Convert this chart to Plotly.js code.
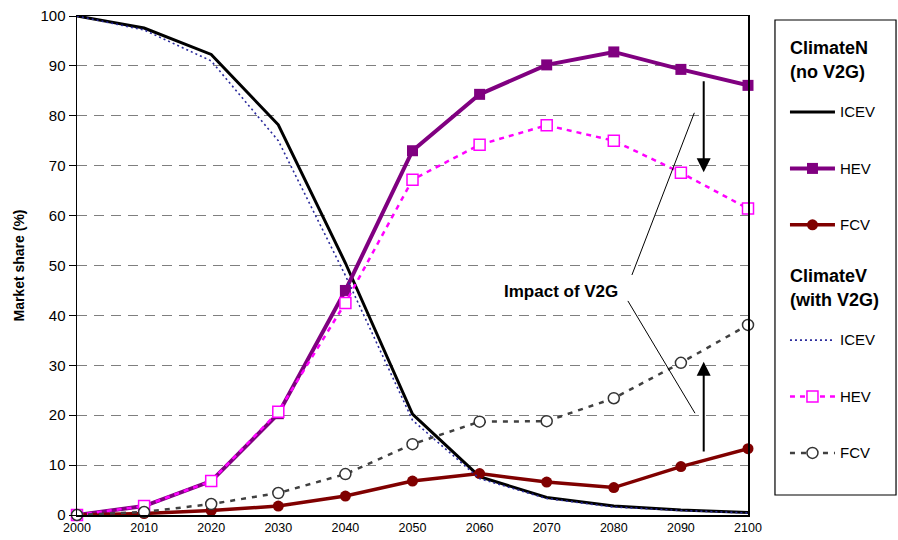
<!DOCTYPE html>
<html>
<head>
<meta charset="utf-8">
<script src="https://cdn.plot.ly/plotly-3.0.1.min.js"></script>
<style>html,body{margin:0;padding:0;background:#fff;}#chart{width:898px;height:540px;}</style>
</head>
<body>
<div id="chart"></div>
<script>
// ---- data ----
var years = [2000, 2010, 2020, 2030, 2040, 2050, 2060, 2070, 2080, 2090, 2100];
var icevN = [100, 97.6, 92.3, 78.2, 50.5, 20.2, 7.7, 3.5, 1.8, 1.0, 0.5];
var hevN  = [0, 1.8, 6.8, 20.3, 45.0, 73.0, 84.3, 90.2, 92.8, 89.3, 86.1];
var fcvN  = [0, 0.3, 0.9, 1.8, 3.8, 6.8, 8.3, 6.6, 5.5, 9.7, 13.3];
var icevV = [100, 97.2, 91.0, 75.0, 48.0, 19.0, 7.3, 3.3, 1.6, 0.9, 0.4];
var hevV  = [0, 1.8, 6.8, 20.7, 42.5, 67.2, 74.2, 78.1, 75.0, 68.6, 61.4];
var fcvV  = [0, 0.6, 2.2, 4.4, 8.2, 14.2, 18.7, 18.8, 23.4, 30.5, 38.1];
var yTicks = [0, 10, 20, 30, 40, 50, 60, 70, 80, 90, 100];
var groupN = 'ClimateN<br>(no V2G)';
var groupV = 'ClimateV<br>(with V2G)';
var seriesNames = ['ICEV', 'HEV', 'FCV'];
var annText = 'Impact of V2G';

var FONT = 'Arial, "Liberation Sans", sans-serif';
function lname(s){ return '<br><span style="font-size:15px">' + s + '</span><br>'; }
var gtFont = {family: FONT, size: 18, color: '#000', weight: 'bold'};

var traces = [
  {x: years, y: icevN, name: lname(seriesNames[0]), legendgroup: 'N', mode: 'lines',
   legendgrouptitle: {text: '<b>' + groupN + '</b>', font: gtFont},
   line: {color: '#000000', width: 3}},
  {x: years, y: hevN, name: lname(seriesNames[1]), legendgroup: 'N', mode: 'lines+markers',
   line: {color: '#800080', width: 4}, marker: {symbol: 'square', size: 11, color: '#800080'}},
  {x: years, y: fcvN, name: lname(seriesNames[2]), legendgroup: 'N', mode: 'lines+markers',
   line: {color: '#800000', width: 3.5}, marker: {symbol: 'circle', size: 11, color: '#800000'}},
  {x: years, y: icevV, name: lname(seriesNames[0]), legendgroup: 'V', mode: 'lines',
   legendgrouptitle: {text: '<b>' + groupV + '</b>', font: gtFont},
   line: {color: '#2a2a9c', width: 1.6, dash: '2px,3px'}},
  {x: years, y: hevV, name: lname(seriesNames[1]), legendgroup: 'V', mode: 'lines+markers',
   line: {color: '#ff00ff', width: 2.5, dash: '5px,5px'},
   marker: {symbol: 'square', size: 11, color: '#ffffff', line: {color: '#ff00ff', width: 1.5}}},
  {x: years, y: fcvV, name: lname(seriesNames[2]), legendgroup: 'V', mode: 'lines+markers',
   line: {color: '#404040', width: 2.5, dash: '5px,6px'},
   marker: {symbol: 'circle', size: 11, color: '#ffffff', line: {color: '#333333', width: 1.5}}}
];
traces.forEach(function(t){ t.type = 'scatter'; t.cliponaxis = false; });

var layout = {
  width: 898, height: 540,
  margin: {l: 77, r: 150, t: 16, b: 25, autoexpand: false},
  paper_bgcolor: '#ffffff', plot_bgcolor: '#ffffff',
  font: {family: FONT, color: '#000'},
  showlegend: true,
  legend: {
    x: 1.0551, xanchor: 'left', y: 0.974, yanchor: 'top',
    font: {family: FONT, size: 13.7, color: '#000'},
    tracegroupgap: 9, traceorder: 'grouped', itemwidth: 45,
    bgcolor: 'rgba(0,0,0,0)', borderwidth: 0
  },
  xaxis: {
    range: [2000, 2100], tickvals: years, ticks: '', showgrid: false, zeroline: false,
    showline: true, linecolor: '#000', linewidth: 1.5, mirror: true,
    tickfont: {family: FONT, size: 12.5, color: '#000'}
  },
  yaxis: {
    range: [0, 100], tickvals: yTicks, ticks: 'outside', ticklen: 7, tickcolor: '#000', tickwidth: 1,
    showline: true, linecolor: '#000', linewidth: 1.5, mirror: true, zeroline: false,
    showgrid: true, gridcolor: '#7f7f7f', gridwidth: 1, griddash: '10px,7px',
    tickfont: {family: FONT, size: 15, color: '#000'},
    title: {text: '<b>Market share (%)</b>', font: {family: FONT, size: 14, color: '#000'}, standoff: 12}
  },
  shapes: [
    {type: 'rect', xref: 'paper', yref: 'paper', x0: 1.0402, x1: 1.2206, y0: 0.0401, y1: 0.992,
     line: {color: '#000', width: 1.2}, fillcolor: 'rgba(0,0,0,0)'},
    {type: 'line', xref: 'x', yref: 'y', x0: 2082.7, y0: 48.1, x1: 2092.0, y1: 80.6,
     line: {color: '#000', width: 1}},
    {type: 'line', xref: 'x', yref: 'y', x0: 2082.1, y0: 42.9, x1: 2092.1, y1: 20.4,
     line: {color: '#000', width: 1}}
  ],
  annotations: [
    {x: 2072.1, y: 44.7, xref: 'x', yref: 'y', text: '<b>' + annText + '</b>', showarrow: false,
     font: {family: FONT, size: 17, color: '#000'}},
    {x: 2093.4, y: 68.7, ax: 2093.4, ay: 87.2, xref: 'x', yref: 'y', axref: 'x', ayref: 'y',
     text: '', showarrow: true, arrowhead: 2, arrowsize: 1.4, arrowwidth: 2, arrowcolor: '#000'},
    {x: 2093.4, y: 30.7, ax: 2093.4, ay: 12.4, xref: 'x', yref: 'y', axref: 'x', ayref: 'y',
     text: '', showarrow: true, arrowhead: 2, arrowsize: 1.4, arrowwidth: 2, arrowcolor: '#000'}
  ]
};

Plotly.newPlot('chart', traces, layout, {displayModeBar: false, staticPlot: true});
</script>
</body>
</html>
